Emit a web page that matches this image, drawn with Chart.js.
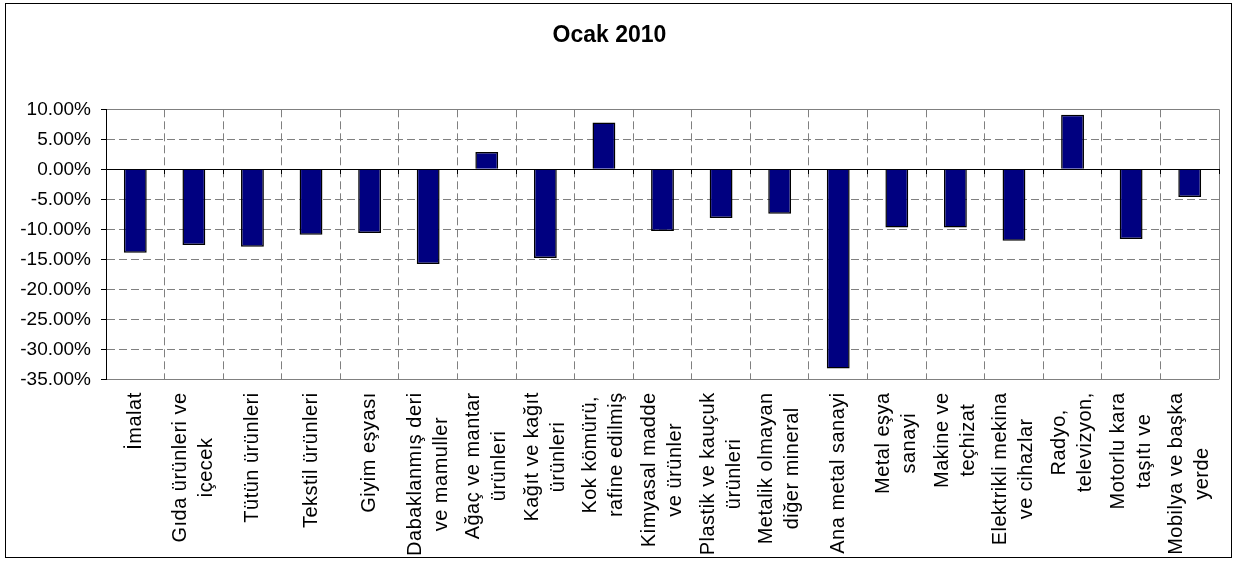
<!DOCTYPE html>
<html>
<head>
<meta charset="utf-8">
<script src="https://cdn.jsdelivr.net/npm/chart.js@4/dist/chart.umd.min.js"></script>
<style>
  body { margin: 0; background: #fff; }
  canvas { display: block; }
</style>
</head>
<body>
<canvas id="chart" width="1237" height="561"></canvas>
<script>
// sektör adları (satırlara bölünmüş)
const categories = [
  ["İmalat"],
  ["Gıda ürünleri ve", "içecek"],
  ["Tütün ürünleri"],
  ["Tekstil ürünleri"],
  ["Giyim eşyası"],
  ["Dabaklanmış deri", "ve mamuller"],
  ["Ağaç ve mantar", "ürünleri"],
  ["Kağıt ve kağıt", "ürünleri"],
  ["Kok kömürü,", "rafine edilmiş"],
  ["Kimyasal madde", "ve ürünler"],
  ["Plastik ve kauçuk", "ürünleri"],
  ["Metalik olmayan", "diğer mineral"],
  ["Ana metal sanayi"],
  ["Metal eşya", "sanayi"],
  ["Makine ve", "teçhizat"],
  ["Elektrikli mekina", "ve cihazlar"],
  ["Radyo,", "televizyon,"],
  ["Motorlu kara", "taşıtı ve"],
  ["Mobilya ve başka", "yerde"]
];

// Ocak 2010 değişim (%)
const changes = [-13.9, -12.6, -12.9, -10.9, -10.6, -15.8, 2.9, -14.8, 7.8,
                 -10.3, -8.1, -7.4, -33.2, -9.7, -9.7, -11.9, 9.1, -11.6, -4.6];

const yMin = -35;
const yMax = 10;
const yStep = 5;

const FONT = '"Liberation Sans", Arial, sans-serif';

// beyaz zemin + dış çerçeve
const framePlugin = {
  id: 'frame',
  beforeDraw(chart) {
    const ctx = chart.ctx;
    ctx.save();
    ctx.fillStyle = '#fff';
    ctx.fillRect(0, 0, chart.width, chart.height);
    ctx.strokeStyle = '#000';
    ctx.lineWidth = 1;
    ctx.strokeRect(5.5, 3.5, 1226, 554);
    ctx.restore();
  }
};

// dikey, ortalanmış kategori etiketleri
const labelPlugin = {
  id: 'vlabels',
  afterDraw(chart) {
    const ctx = chart.ctx;
    const xs = chart.scales.x;
    const top = chart.chartArea.bottom + 13;
    const lh = 26;
    ctx.save();
    ctx.font = '20px ' + FONT;
    ctx.letterSpacing = '0.5px';
    ctx.fillStyle = '#000';
    ctx.textAlign = 'center';
    ctx.textBaseline = 'middle';
    categories.forEach((lines, i) => {
      const x = xs.getPixelForValue(i);
      const w = Math.max(...lines.map(l => ctx.measureText(l).width));
      lines.forEach((line, j) => {
        ctx.save();
        ctx.translate(x + (j - (lines.length - 1) / 2) * lh, top + w / 2);
        ctx.rotate(-Math.PI / 2);
        ctx.fillText(line, 0, 0);
        ctx.restore();
      });
    });
    ctx.restore();
  }
};

new Chart(document.getElementById('chart'), {
  type: 'bar',
  data: {
    labels: categories,
    datasets: [{
      data: changes,
      backgroundColor: '#000080',
      borderColor: '#000',
      borderWidth: 1.5,
      barPercentage: 0.39,
      categoryPercentage: 1
    }]
  },
  options: {
    responsive: false,
    animation: false,
    devicePixelRatio: 1,
    layout: { padding: { left: 0, right: 18, top: 0, bottom: 181.7 } },
    plugins: {
      legend: { display: false },
      tooltip: { enabled: false },
      title: {
        display: true,
        text: 'Ocak 2010',
        color: '#000',
        font: { family: FONT, size: 23, weight: 'bold' },
        padding: { top: 21.5, bottom: 60.2 }
      }
    },
    scales: {
      x: {
        position: { y: 0 },
        offset: true,
        ticks: { display: false },
        grid: {
          offset: true,
          color: '#808080',
          lineWidth: 1,
          drawTicks: true,
          tickLength: 4,
          tickColor: '#000',
          tickBorderDash: []
        },
        border: {
          display: true,
          color: '#000',
          width: 1,
          dash: c => (c.type === 'tick' && c.index > 0) ? [8, 4] : []
        }
      },
      y: {
        min: yMin,
        max: yMax,
        afterFit: s => { s.width = 106; },
        ticks: {
          stepSize: yStep,
          color: '#000',
          padding: 10,
          font: { family: FONT, size: 19 },
          callback: v => v.toFixed(2) + '%'
        },
        grid: {
          color: c => (c.tick && c.tick.value === 0) ? '#000' : '#808080',
          lineWidth: 1,
          tickLength: 5,
          tickColor: '#000',
          tickBorderDash: []
        },
        border: {
          display: true,
          color: '#000',
          width: 1,
          dash: c => (c.tick && c.tick.value > yMin && c.tick.value < yMax && c.tick.value !== 0) ? [8, 4] : []
        }
      }
    }
  },
  plugins: [framePlugin, labelPlugin]
});
</script>
</body>
</html>
